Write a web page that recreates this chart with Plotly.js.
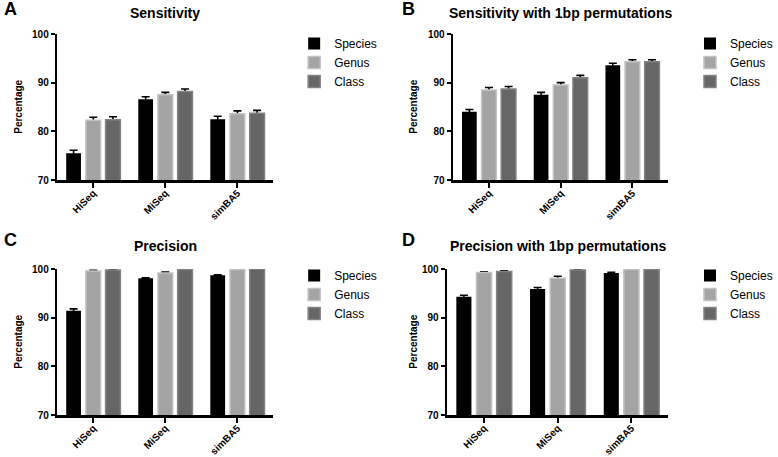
<!DOCTYPE html>
<html>
<head>
<meta charset="utf-8">
<script src="https://cdn.plot.ly/plotly-3.0.1.min.js"></script>
<style>html,body{margin:0;padding:0;background:#fff;}#chart{width:778px;height:457px;}</style>
</head>
<body>
<div id="chart"></div>
<script>
// ---------- data ----------
const categories = ['HiSeq', 'MiSeq', 'simBA5'];
const seriesNames = ['Species', 'Genus', 'Class'];
const panelTitles = ['Sensitivity', 'Sensitivity with 1bp permutations', 'Precision', 'Precision with 1bp permutations'];
const panelLetters = ['A', 'B', 'C', 'D'];
const yTickVals = [70, 80, 90, 100];

// Sensitivity
const sensSpecies = [75.5, 86.6, 82.5];
const sensGenus   = [82.3, 87.5, 83.6];
const sensClass   = [82.4, 88.2, 83.7];
const sensSpeciesErr = [0.6, 0.5, 0.6];
const sensGenusErr   = [0.6, 0.5, 0.6];
const sensClassErr   = [0.6, 0.5, 0.6];

// Sensitivity with 1bp permutations
const sens1Species = [84.0, 87.5, 93.6];
const sens1Genus   = [88.5, 89.5, 94.3];
const sens1Class   = [88.7, 91.0, 94.3];
const sens1SpeciesErr = [0.5, 0.5, 0.4];
const sens1GenusErr   = [0.5, 0.5, 0.4];
const sens1ClassErr   = [0.5, 0.5, 0.4];

// Precision
const precSpecies = [91.4, 98.1, 98.7];
const precGenus   = [99.6, 99.2, 99.9];
const precClass   = [99.8, 99.9, 100.0];
const precSpeciesErr = [0.4, 0.1, 0.1];
const precGenusErr   = [0.15, 0.15, 0.1];
const precClassErr   = [0.1, 0.05, 0.05];

// Precision with 1bp permutations
const prec1Species = [94.3, 95.9, 99.2];
const prec1Genus   = [99.3, 98.1, 99.9];
const prec1Class   = [99.5, 99.8, 99.9];
const prec1SpeciesErr = [0.3, 0.3, 0.1];
const prec1GenusErr   = [0.1, 0.4, 0.1];
const prec1ClassErr   = [0.15, 0.05, 0.05];

// ---------- styling ----------
const FONT = 'Liberation Sans, Arial, Helvetica, sans-serif';
const fills = ['#000000', '#a4a4a4', '#666666'];
const edges = ['#000000', '#c2c2c2', '#828282'];
const W = 778, H = 457;

const panels = [
  {vals: [sensSpecies, sensGenus, sensClass], errs: [sensSpeciesErr, sensGenusErr, sensClassErr],
   xd: [58, 277], yd: [34, 180], leg: {x: 298, y: 29}},
  {vals: [sens1Species, sens1Genus, sens1Class], errs: [sens1SpeciesErr, sens1GenusErr, sens1ClassErr],
   xd: [459, 677], yd: [34, 180], leg: {x: 699, y: 29}},
  {vals: [precSpecies, precGenus, precClass], errs: [precSpeciesErr, precGenusErr, precClassErr],
   xd: [58, 277], yd: [269, 415], leg: {x: 298, y: 261}},
  {vals: [prec1Species, prec1Genus, prec1Class], errs: [prec1SpeciesErr, prec1GenusErr, prec1ClassErr],
   xd: [453, 677], yd: [269, 415], leg: {x: 699, y: 261}}
];

const traces = [];
const layout = {
  width: W, height: H,
  margin: {l: 0, r: 0, t: 0, b: 0},
  paper_bgcolor: '#ffffff', plot_bgcolor: '#ffffff',
  barmode: 'group', bargap: 0.18, bargroupgap: 0.25,
  font: {family: FONT, color: '#000000'},
  annotations: [],
  showlegend: true
};

panels.forEach((p, i) => {
  const n = i + 1;
  const xa = 'x' + (n === 1 ? '' : n), ya = 'y' + (n === 1 ? '' : n);
  const legName = 'legend' + (n === 1 ? '' : n);
  // error bars (drawn first so bars hide their lower half)
  seriesNames.forEach((s, k) => {
    traces.push({
      type: 'bar', x: categories, y: p.vals[k], xaxis: xa, yaxis: ya,
      offsetgroup: s, showlegend: false, hoverinfo: 'skip',
      marker: {color: 'rgba(0,0,0,0)', line: {width: 0}},
      error_y: {type: 'data', array: p.errs[k], symmetric: true, color: '#000000', thickness: 1.6, width: 4}
    });
  });
  seriesNames.forEach((s, k) => {
    traces.push({
      type: 'bar', name: s, x: categories, y: p.vals[k], xaxis: xa, yaxis: ya,
      offsetgroup: s, legend: legName, showlegend: true,
      marker: {color: fills[k], line: {color: edges[k], width: k === 0 ? 0 : 1.5}}
    });
  });
  const xKey = 'xaxis' + (n === 1 ? '' : n), yKey = 'yaxis' + (n === 1 ? '' : n);
  layout[xKey] = {
    domain: [p.xd[0] / W, p.xd[1] / W], anchor: ya, type: 'category',
    range: [-0.5, 2.5], showline: true, linewidth: 2.5, linecolor: '#000000',
    ticks: 'outside', ticklen: 5, tickwidth: 2, tickcolor: '#000000',
    ticklabelstandoff: -4,
    tickangle: -45, tickfont: {family: FONT, size: 10, weight: 'bold', color: '#000'},
    showgrid: false, zeroline: false, fixedrange: true
  };
  layout[yKey] = {
    domain: [1 - p.yd[1] / H, 1 - p.yd[0] / H], anchor: xa,
    range: [70, 100], tickvals: yTickVals, ticktext: yTickVals.map(String),
    showline: true, linewidth: 2.5, linecolor: '#000000',
    ticks: 'outside', ticklen: 4, tickwidth: 2, tickcolor: '#000000',
    tickfont: {family: FONT, size: 10, weight: 'bold', color: '#000'},
    showgrid: false, zeroline: false, fixedrange: true
  };
  layout[legName] = {
    x: p.leg.x / W, y: 1 - p.leg.y / H, xanchor: 'left', yanchor: 'top',
    xref: 'paper', yref: 'paper',
    font: {family: FONT, size: 12, color: '#000'}, bgcolor: 'rgba(0,0,0,0)',
    traceorder: 'normal', tracegroupgap: 0
  };
  const cx = (p.xd[0] + p.xd[1]) / 2 / W;
  const titleY = (i < 2 ? 13 : 246);
  layout.annotations.push({
    text: panelTitles[i], xref: 'paper', yref: 'paper', x: cx, y: 1 - titleY / H,
    xanchor: 'center', yanchor: 'middle', showarrow: false,
    font: {family: FONT, size: 14, weight: 'bold', color: '#000'}
  });
  layout.annotations.push({
    text: panelLetters[i], xref: 'paper', yref: 'paper',
    x: (i % 2 === 0 ? 2 : 405) / W, y: 1 - (i < 2 ? 9 : 240) / H,
    xanchor: 'left', yanchor: 'middle', showarrow: false,
    font: {family: FONT, size: 18, weight: 'bold', color: '#000'}
  });
  layout.annotations.push({
    text: 'Percentage', xref: 'paper', yref: 'paper',
    x: (i % 2 === 0 ? 18 : 418) / W, y: 1 - ((p.yd[0] + p.yd[1]) / 2) / H,
    xanchor: 'center', yanchor: 'middle', textangle: -90, showarrow: false,
    font: {family: FONT, size: 10, weight: 'bold', color: '#000'}
  });
});

Plotly.newPlot('chart', traces, layout, {displayModeBar: false, staticPlot: true});
</script>
</body>
</html>
